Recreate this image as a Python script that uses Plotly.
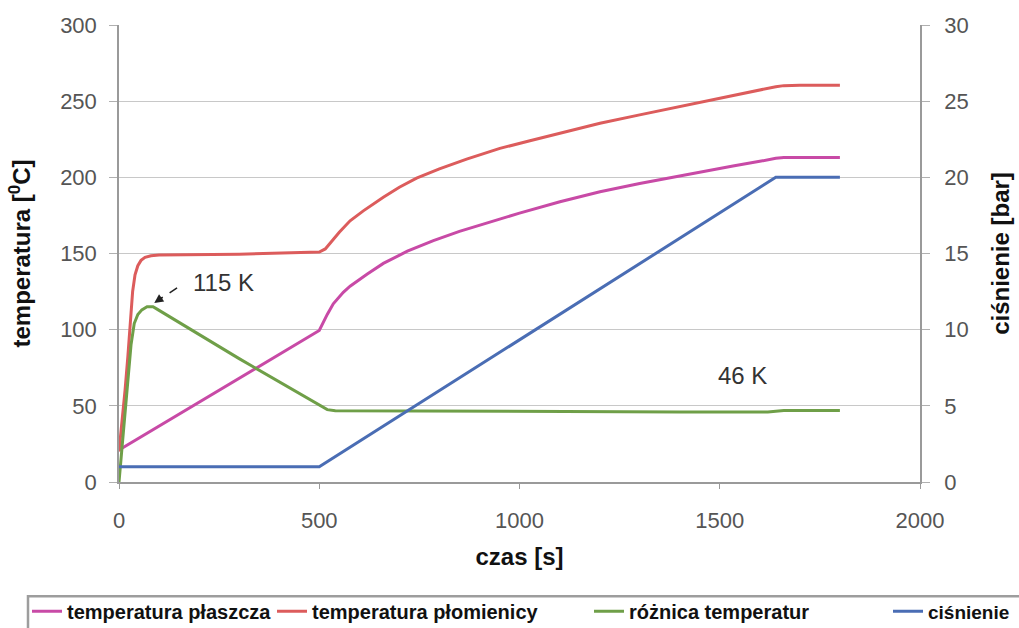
import plotly.graph_objects as go

# time [s] and values
t_plaszcz = [0, 500, 520, 535, 560, 577, 620, 660, 720, 785, 850, 910, 1000, 1101, 1201, 1300, 1400, 1533, 1600, 1640, 1660, 1800]
temp_plaszcz = [21, 99.5, 110, 117, 124.5, 128.5, 136.5, 143.5, 151.5, 158.5, 164.5, 169.5, 176.5, 184, 190.5, 196, 201, 207.5, 210.5, 212.5, 213, 213]

t_plom = [0, 8, 15, 22, 28, 34, 40, 47, 55, 65, 80, 100, 300, 500, 515, 530, 550, 577, 610, 660, 700, 743, 800, 868, 951,
          1026, 1100, 1201, 1300, 1400, 1500, 1533, 1600, 1640, 1660, 1700, 1800]
temp_plom = [20, 40, 60, 82, 105, 125, 136, 142, 145.5, 147.5, 148.5, 149, 149.5, 151, 153, 158, 164, 171.5, 178, 187, 193.5, 199.5, 205.5, 212, 219,
             224, 229, 235.5, 241, 246.5, 251.5, 253.5, 257, 259.5, 260.2, 260.5, 260.5]

t_roznica = [0, 10, 20, 30, 38, 47, 57, 70, 85, 95, 300, 505, 520, 540, 800, 1100, 1400, 1620, 1660, 1800]
roznica = [0, 30, 60, 90, 104, 110, 113, 115, 115, 113.5, 81, 50, 47.5, 46.8, 46.5, 46, 46, 46, 47, 47]

t_cisn = [0, 500, 1640, 1800]
cisnienie = [1, 1, 20, 20]

x_ticks = [0, 500, 1000, 1500, 2000]
y_ticks = [0, 50, 100, 150, 200, 250, 300]
y2_ticks = [0, 5, 10, 15, 20, 25, 30]

C_MAG = "#c84aa6"
C_RED = "#dc5c5c"
C_GRN = "#6f9f48"
C_BLU = "#4a6db4"

fig = go.Figure()
fig.add_trace(go.Scatter(x=t_plaszcz, y=temp_plaszcz, mode="lines", name="<b>temperatura płaszcza</b>",
                         line=dict(color=C_MAG, width=3), legend="legend"))
fig.add_trace(go.Scatter(x=t_plom, y=temp_plom, mode="lines", name="<b>temperatura płomienicy</b>",
                         line=dict(color=C_RED, width=3), legend="legend2"))
fig.add_trace(go.Scatter(x=t_roznica, y=roznica, mode="lines", name="<b>różnica temperatur</b>",
                         line=dict(color=C_GRN, width=3), legend="legend3"))
fig.add_trace(go.Scatter(x=t_cisn, y=cisnienie, mode="lines", name="<b>ciśnienie</b>",
                         line=dict(color=C_BLU, width=3), yaxis="y2", legend="legend4"))

W, H = 1019, 628
L, R, T, B = 119, 920, 25, 482.5
pw, ph = R - L, B - T

def px(xp):
    return (xp - L) / pw

def py(yp):
    return (B - yp) / ph

FONT = "Liberation Sans, Arial, sans-serif"
tick_font = dict(family=FONT, size=22, color="#555555")
title_font = dict(family=FONT, size=24, color="#111111")

def leg(xpix, size=20):
    return dict(x=px(xpix), y=py(612), xanchor="left", yanchor="middle", orientation="h",
                font=dict(family=FONT, size=size, color="#111111"),
                bgcolor="rgba(0,0,0,0)", borderwidth=0, itemwidth=30, tracegroupgap=0)

fig.update_layout(
    width=W, height=H,
    margin=dict(l=L, r=W - R, t=T, b=H - B, autoexpand=False),
    plot_bgcolor="white", paper_bgcolor="white",
    showlegend=True,
    legend=leg(27), legend2=leg(272), legend3=leg(589), legend4=leg(888, 19),
    xaxis=dict(range=[0, 2000], tickvals=x_ticks, showgrid=False, zeroline=False, automargin=False,
               showline=True, linecolor="#9a9a9a", linewidth=1.5,
               ticks="outside", ticklen=5, tickcolor="#9a9a9a", tickfont=tick_font,
               ticklabelstandoff=13,
               title=dict(text="<b>czas [s]</b>", font=title_font, standoff=16)),
    yaxis=dict(range=[0, 300], tickvals=y_ticks, showgrid=True, gridcolor="#c8c8c8", gridwidth=1,
               zeroline=False, showline=True, linecolor="#9a9a9a", linewidth=1.5, automargin=False,
               ticks="outside", ticklen=8, tickcolor="#b0b0b0", tickfont=tick_font,
               ticklabelstandoff=8,
               title=dict(text="<b>temperatura [<sup>0</sup>C]</b>", font=title_font, standoff=23)),
    yaxis2=dict(range=[0, 30], tickvals=y2_ticks, overlaying="y", side="right", showgrid=False,
                zeroline=False, showline=True, linecolor="#9a9a9a", linewidth=1.5, automargin=False,
                ticks="outside", ticklen=8, tickcolor="#b0b0b0", tickfont=tick_font,
                ticklabelstandoff=10,
                title=dict(text="<b>ciśnienie [bar]</b>", font=title_font, standoff=25)),
)

# legend frame
fig.add_shape(type="rect", xref="paper", yref="paper",
              x0=px(28), x1=px(1035), y0=py(597), y1=py(645),
              line=dict(color="#9d9d9d", width=2.5), fillcolor="rgba(0,0,0,0)", layer="below")

# 115 K annotation with dashed arrow
fig.add_shape(type="line", xref="x", yref="y", x0=145, y0=127.5, x1=100, y1=119.5,
              line=dict(color="#222222", width=1.5, dash="dash"))
fig.add_annotation(x=88, y=117.5, xref="x", yref="y", ax=10, ay=-7,
                   text="", showarrow=True, arrowhead=2, arrowsize=1.2, arrowwidth=1.5,
                   arrowcolor="#222222")
fig.add_annotation(x=260, y=130.8, xref="x", yref="y", text="115 K", showarrow=False,
                   font=dict(family=FONT, size=24, color="#333333"))
fig.add_annotation(x=1556, y=70, xref="x", yref="y", text="46 K", showarrow=False,
                   font=dict(family=FONT, size=24, color="#333333"))

fig.write_html("out.html", config={"displayModeBar": False},
               post_script="document.body.style.margin='0px';document.body.style.overflow='hidden';")
